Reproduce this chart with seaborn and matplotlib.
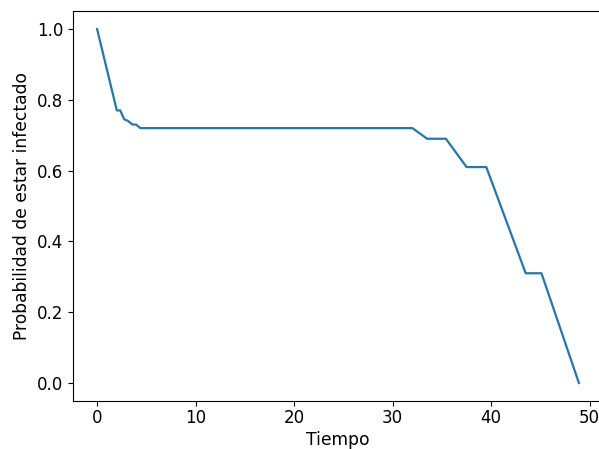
import matplotlib
matplotlib.use("Agg")
import matplotlib.pyplot as plt
import seaborn as sns
import pandas as pd

# Infection probability over time
tiempo = [0, 2.0, 2.35, 2.75, 3.15, 3.6, 3.95, 4.4, 32.0, 33.5, 35.4, 37.5, 39.5, 43.5, 45.1, 48.9]
probabilidad = [1.0, 0.77, 0.77, 0.745, 0.74, 0.73, 0.73, 0.72, 0.72, 0.69, 0.69, 0.61, 0.61, 0.31, 0.31, 0.0]

df = pd.DataFrame({"Tiempo": tiempo, "Probabilidad": probabilidad})

plt.rcParams["font.family"] = ["DejaVu Sans"]
fs = 12.3

fig = plt.figure(figsize=(5.99, 4.49), dpi=100)
ax = fig.add_axes([73.0 / 599, 48.3 / 449, 530.0 / 599, 389.4 / 449])

sns.lineplot(data=df, x="Tiempo", y="Probabilidad", ax=ax, color="tab:blue",
             linewidth=1.6, estimator=None, sort=False)

ax.set_xlabel("Tiempo", fontsize=fs, labelpad=2.5)
ax.set_ylabel("Probabilidad de estar infectado", fontsize=fs)
ax.tick_params(labelsize=12.0)
ax.tick_params(axis="x", pad=2.8)
ax.set_xticks([0, 10, 20, 30, 40, 50])
ax.set_yticks([0.0, 0.2, 0.4, 0.6, 0.8, 1.0])

fig.savefig("out.png", dpi=100)
